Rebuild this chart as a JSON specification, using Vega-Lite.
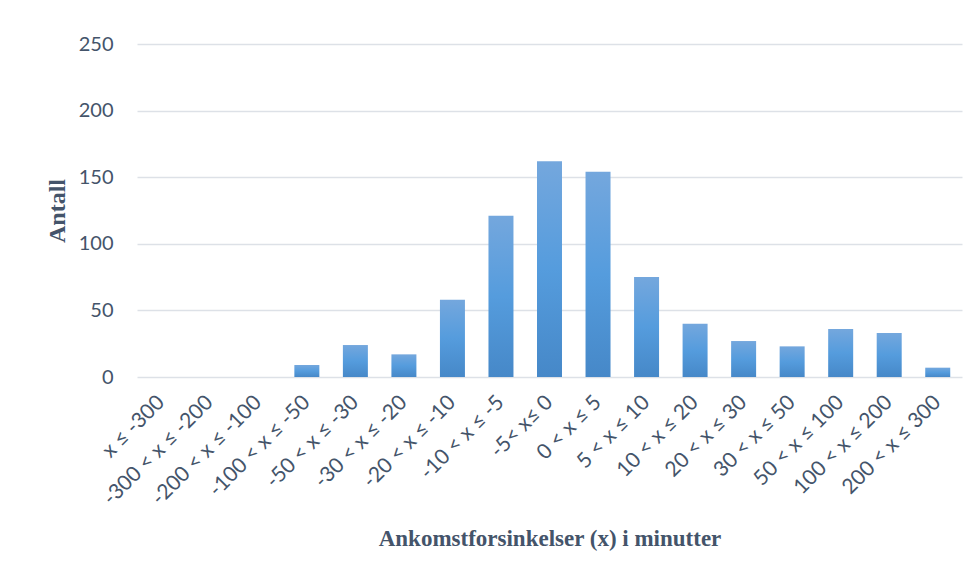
{
  "$schema": "https://vega.github.io/schema/vega-lite/v6.json",
  "autosize": {"type": "none"},
  "width": 825,
  "height": 333,
  "padding": {"left": 137, "top": 44, "right": 13, "bottom": 199},
  "background": "white",
  "config": {"view": {"stroke": null}},
  "data": {"values": [
    {"intervall": "x ≤ -300", "antall": 0},
    {"intervall": "-300 < x ≤ -200", "antall": 0},
    {"intervall": "-200 < x ≤ -100", "antall": 0},
    {"intervall": "-100 < x ≤ -50", "antall": 9},
    {"intervall": "-50 < x ≤ -30", "antall": 24},
    {"intervall": "-30 < x ≤ -20", "antall": 17},
    {"intervall": "-20 < x ≤ -10", "antall": 58},
    {"intervall": "-10 < x ≤ -5", "antall": 121},
    {"intervall": "-5< x≤ 0", "antall": 162},
    {"intervall": "0 < x ≤ 5", "antall": 154},
    {"intervall": "5 < x ≤ 10", "antall": 75},
    {"intervall": "10 < x ≤ 20", "antall": 40},
    {"intervall": "20 < x ≤ 30", "antall": 27},
    {"intervall": "30 < x ≤ 50", "antall": 23},
    {"intervall": "50 < x ≤ 100", "antall": 36},
    {"intervall": "100 < x ≤ 200", "antall": 33},
    {"intervall": "200 < x ≤ 300", "antall": 7}
  ]},
  "mark": {
    "type": "bar",
    "color": {
      "gradient": "linear", "x1": 0, "y1": 0, "x2": 0, "y2": 1,
      "stops": [
        {"offset": 0, "color": "#74A7DD"},
        {"offset": 0.5, "color": "#559CDD"},
        {"offset": 1, "color": "#4688C8"}
      ]
    }
  },
  "encoding": {
    "x": {
      "field": "intervall", "type": "nominal", "sort": null,
      "scale": {"paddingInner": 0.485, "paddingOuter": 0.2425},
      "axis": {
        "title": "Ankomstforsinkelser (x) i minutter",
        "titleFont": "Liberation Serif", "titleFontWeight": "bold", "titleFontSize": 23,
        "titleColor": "#44546A", "titleBaseline": "middle", "titleY": 161,
        "labelAngle": -45, "labelFont": "Lato", "labelFontSize": 21, "labelColor": "#44546A",
        "labelAlign": "right", "labelBaseline": "middle",
        "labelPadding": 22, "ticks": false, "domain": false, "grid": false
      }
    },
    "y": {
      "field": "antall", "type": "quantitative",
      "scale": {"domain": [0, 250]},
      "axis": {
        "title": "Antall", "values": [0, 50, 100, 150, 200, 250],
        "titleFont": "Liberation Serif", "titleFontWeight": "bold", "titleFontSize": 24,
        "titleColor": "#44546A", "titleAngle": -90, "titleBaseline": "middle", "titleAlign": "center",
        "titleX": -80, "titleY": 166.5,
        "labelFont": "Lato", "labelFontSize": 20, "labelColor": "#44546A", "labelPadding": 24,
        "ticks": false, "domain": false,
        "grid": true, "gridColor": "#DDE1E7", "gridWidth": 1.5
      }
    }
  }
}
